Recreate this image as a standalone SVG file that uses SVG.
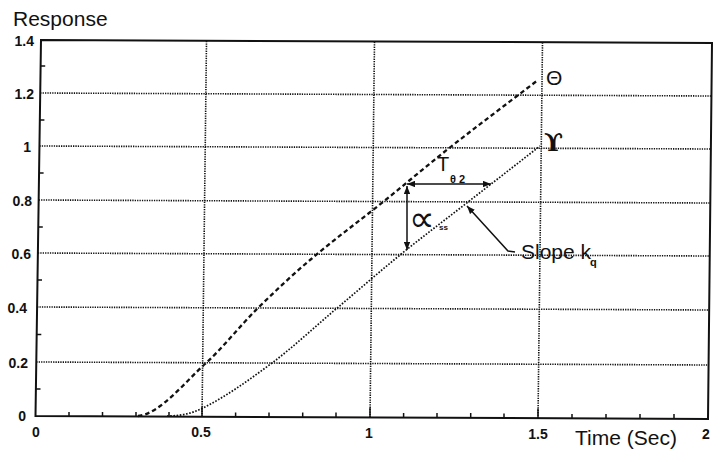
<svg xmlns="http://www.w3.org/2000/svg" width="725" height="462" viewBox="0 0 725 462">
<style>
.bg{fill:#fff}
.frame{fill:none;stroke:#111;stroke-width:2}
.grid{stroke:#111;stroke-width:1.6;stroke-dasharray:1.3 1.1;fill:none}
.tick{stroke:#111;stroke-width:1.5}
.theta{fill:none;stroke:#111;stroke-width:2.3;stroke-dasharray:4.5 3}
.ups{fill:none;stroke:#111;stroke-width:1.7;stroke-dasharray:1.6 1.6}
.ann{fill:none;stroke:#111;stroke-width:1.5}
.lbl{font-family:"Liberation Sans",Arial,sans-serif;font-size:14px;font-weight:bold;fill:#111}
.ttl{font-family:"Liberation Sans",Arial,sans-serif;font-size:21px;fill:#111}
.sub{font-family:"Liberation Sans",Arial,sans-serif;font-weight:bold;fill:#111}
</style>
<defs>
<marker id="ah" viewBox="0 0 10 8" refX="10" refY="4" markerWidth="8" markerHeight="6.4" markerUnits="userSpaceOnUse" orient="auto-start-reverse">
<path d="M0,0 L10,4 L0,8 Z" fill="#111"/>
</marker>
</defs>
<rect class="bg" x="0" y="0" width="725" height="462"/>

<g id="grid">
<line class="grid" x1="36.3" y1="362" x2="708.6" y2="365"/>
<line class="grid" x1="37.1" y1="307" x2="709.2" y2="310"/>
<line class="grid" x1="37.9" y1="253" x2="709.7" y2="256"/>
<line class="grid" x1="38.7" y1="200" x2="710.3" y2="203"/>
<line class="grid" x1="39.4" y1="146" x2="710.9" y2="149"/>
<line class="grid" x1="40.2" y1="93" x2="711.4" y2="96"/>
<line class="grid" x1="202" y1="416.7" x2="206.5" y2="40.7"/>
<line class="grid" x1="370" y1="417.5" x2="374.5" y2="41.5"/>
<line class="grid" x1="538" y1="418.2" x2="542.5" y2="42.2"/>
</g>

<g id="axes">
<polygon class="frame" points="41,40 712,43 708,419 35.5,416"/>
<g id="x-ticks">
<line class="tick" x1="69" y1="416.2" x2="69" y2="412"/>
<line class="tick" x1="102.5" y1="416.3" x2="102.5" y2="412"/>
<line class="tick" x1="136" y1="416.4" x2="136" y2="412"/>
<line class="tick" x1="169" y1="416.6" x2="169" y2="412"/>
<line class="tick" x1="202" y1="416.7" x2="202" y2="407"/>
<line class="tick" x1="235.6" y1="416.9" x2="235.6" y2="412.5"/>
<line class="tick" x1="269" y1="417" x2="269" y2="412.5"/>
<line class="tick" x1="302.7" y1="417.2" x2="302.7" y2="412.5"/>
<line class="tick" x1="336" y1="417.3" x2="336" y2="412.5"/>
<line class="tick" x1="370" y1="417.5" x2="370" y2="408"/>
<line class="tick" x1="403.6" y1="417.6" x2="403.6" y2="413"/>
<line class="tick" x1="437" y1="417.8" x2="437" y2="413"/>
<line class="tick" x1="470.7" y1="417.9" x2="470.7" y2="413"/>
<line class="tick" x1="504" y1="418.1" x2="504" y2="413.5"/>
<line class="tick" x1="538" y1="418.2" x2="538" y2="408.5"/>
<line class="tick" x1="572" y1="418.4" x2="572" y2="414"/>
<line class="tick" x1="606" y1="418.5" x2="606" y2="414"/>
<line class="tick" x1="640" y1="418.7" x2="640" y2="414"/>
<line class="tick" x1="674" y1="418.8" x2="674" y2="414"/>
</g>
<g id="y-ticks">
<line class="tick" x1="35.9" y1="389" x2="40.5" y2="389"/>
<line class="tick" x1="36.7" y1="334.5" x2="41.3" y2="334.5"/>
<line class="tick" x1="37.5" y1="280" x2="42" y2="280"/>
<line class="tick" x1="38.3" y1="227" x2="42.8" y2="227"/>
<line class="tick" x1="39" y1="173" x2="43.6" y2="173"/>
<line class="tick" x1="39.8" y1="120" x2="44.4" y2="120"/>
<line class="tick" x1="40.6" y1="66" x2="45.2" y2="66"/>
</g>
</g>

<g id="axis-labels">
<text class="ttl" x="13" y="26">Response</text>
<text class="lbl" text-anchor="end" x="34" y="46">1.4</text>
<text class="lbl" text-anchor="end" x="34" y="99">1.2</text>
<text class="lbl" text-anchor="end" x="31" y="152">1</text>
<text class="lbl" text-anchor="end" x="32" y="206">0.8</text>
<text class="lbl" text-anchor="end" x="31" y="259">0.6</text>
<text class="lbl" text-anchor="end" x="27" y="313">0.4</text>
<text class="lbl" text-anchor="end" x="28" y="368">0.2</text>
<text class="lbl" text-anchor="end" x="26" y="421">0</text>
<text class="lbl" text-anchor="middle" x="36" y="437">0</text>
<text class="lbl" text-anchor="middle" x="201" y="437">0.5</text>
<text class="lbl" text-anchor="middle" x="369" y="438">1</text>
<text class="lbl" text-anchor="middle" x="538" y="439">1.5</text>
<text class="lbl" text-anchor="middle" x="706" y="439">2</text>
<text class="ttl" x="575" y="445">Time (Sec)</text>
</g>

<g id="curves">
<path id="curve-theta" class="theta" d="M138,416 C160,414 185,382 205,364 C222.3,348.4 239.7,326.1 257,309 C274.7,291.5 292.3,275 310,260 C334.3,239.3 358.7,221.5 383,202 C404.7,184.6 426.3,166.2 448,149 C471,130.8 494,113.6 517,96 L538,80"/>
<path id="curve-upsilon" class="ups" d="M167,416 C179,416 191,414 203,408 C226,396.5 249,380.1 272,363 C293.3,347.1 314.7,326.9 336,309 C357.3,291.1 378.7,272.3 400,255 C422.7,236.6 445.3,219.7 468,202 L540,146"/>
</g>

<g id="curve-labels">
<text id="label-theta" x="546" y="85" style="font-family:'Liberation Sans',Arial,sans-serif;font-size:21px;fill:#111">Θ</text>
<text id="label-upsilon" x="544" y="151" style="font-family:'DejaVu Serif',serif;font-size:25px;font-weight:bold;fill:#111">ϒ</text>
</g>

<g id="connectors">
<line class="ann" x1="407" y1="184" x2="491" y2="184" marker-start="url(#ah)" marker-end="url(#ah)"/>
<line class="ann" x1="407" y1="186" x2="407" y2="250" marker-start="url(#ah)" marker-end="url(#ah)"/>
<polyline class="ann" points="515,252 508,251 467,206" marker-end="url(#ah)"/>
</g>

<g id="annotation-labels">
<g id="label-T">
<text x="437" y="171" style="font-family:'Liberation Sans',Arial,sans-serif;font-size:20px;fill:#111">T</text>
<text class="sub" x="450" y="183" style="font-size:11px">θ 2</text>
</g>
<g id="label-alpha">
<text x="409" y="231" style="font-family:'DejaVu Sans',sans-serif;font-size:36px;fill:#111">∝</text>
<text class="sub" x="439" y="230" style="font-size:8px">ss</text>
</g>
<g id="label-slope">
<text class="ttl" x="521" y="259">Slope k</text>
<text class="sub" x="590" y="266" style="font-size:11px">q</text>
</g>
</g>
</svg>
